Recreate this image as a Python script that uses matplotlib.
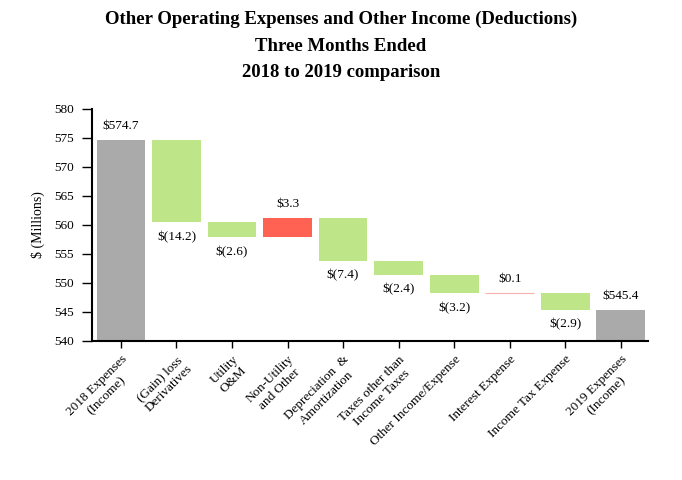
import matplotlib
matplotlib.use("Agg")
import matplotlib.pyplot as plt
import numpy as np

plt.rcParams["font.family"] = ["Liberation Serif", "DejaVu Serif"]

categories = ["2018 Expenses\n(Income)", "(Gain) loss\nDerivatives", "Utility\nO&M",
              "Non-Utility\nand Other", "Depreciation  &\nAmortization",
              "Taxes other than\nIncome Taxes", "Other Income/Expense",
              "Interest Expense", "Income Tax Expense", "2019 Expenses\n(Income)"]
start_total = 574.7
changes = [-14.2, -2.6, 3.3, -7.4, -2.4, -3.2, 0.1, -2.9]
end_total = 545.4

GRAY = "#aaaaaa"
GREEN = "#bee587"
RED = "#ff6152"

fig = plt.figure(figsize=(6.82, 4.8), dpi=100)
ax = fig.add_axes([0.135, 0.29, 0.815, 0.483])

x = np.arange(len(categories))
w = 0.88
ymin = 540

# totals
ax.bar(x[0], start_total - ymin, bottom=ymin, width=w, color=GRAY)
ax.bar(x[-1], end_total - ymin, bottom=ymin, width=w, color=GRAY)
ax.text(x[0], start_total + 1.3, f"${start_total:.1f}", ha="center", va="bottom", fontsize=9.5)
ax.text(x[-1], end_total + 1.3, f"${end_total:.1f}", ha="center", va="bottom", fontsize=9.5)

level = start_total
for i, d in enumerate(changes, start=1):
    lo = min(level, level + d)
    color = GREEN if d < 0 else RED
    if abs(d) < 0.5:
        # too small to see as a bar: draw it as a thin line
        ax.bar(x[i], abs(d), bottom=lo, width=w, color="#f7b0aa",
               edgecolor="#f7b0aa", linewidth=0.8)
    else:
        ax.bar(x[i], abs(d), bottom=lo, width=w, color=color)
    if d < 0:
        ax.text(x[i], lo - 1.5, f"$({abs(d):.1f})", ha="center", va="top", fontsize=9.5)
    else:
        ax.text(x[i], lo + d + 1.3, f"${d:.1f}", ha="center", va="bottom", fontsize=9.5)
    level += d

ax.set_ylim(540, 580)
ax.set_yticks(np.arange(540, 581, 5))
ax.set_xlim(-0.52, 9.49)
ax.set_xticks(x)
ax.set_xticklabels(categories, rotation=45, ha="right", va="top",
                   rotation_mode="anchor", multialignment="center", fontsize=9.5)
ax.tick_params(axis="y", length=7, width=1, labelsize=9.5, pad=6)
ax.tick_params(axis="x", length=5, width=1, pad=4)
ax.set_ylabel("$ (Millions)", fontsize=10)
ax.yaxis.set_label_coords(-0.085, 0.5)

for s in ["top", "right"]:
    ax.spines[s].set_visible(False)
ax.spines["left"].set_linewidth(1.5)
ax.spines["bottom"].set_linewidth(1.5)

fig.suptitle("Other Operating Expenses and Other Income (Deductions)\nThree Months Ended\n2018 to 2019 comparison",
             fontsize=13.5, fontweight="bold", y=0.978, linespacing=1.75)

fig.savefig("out.png", dpi=100)
